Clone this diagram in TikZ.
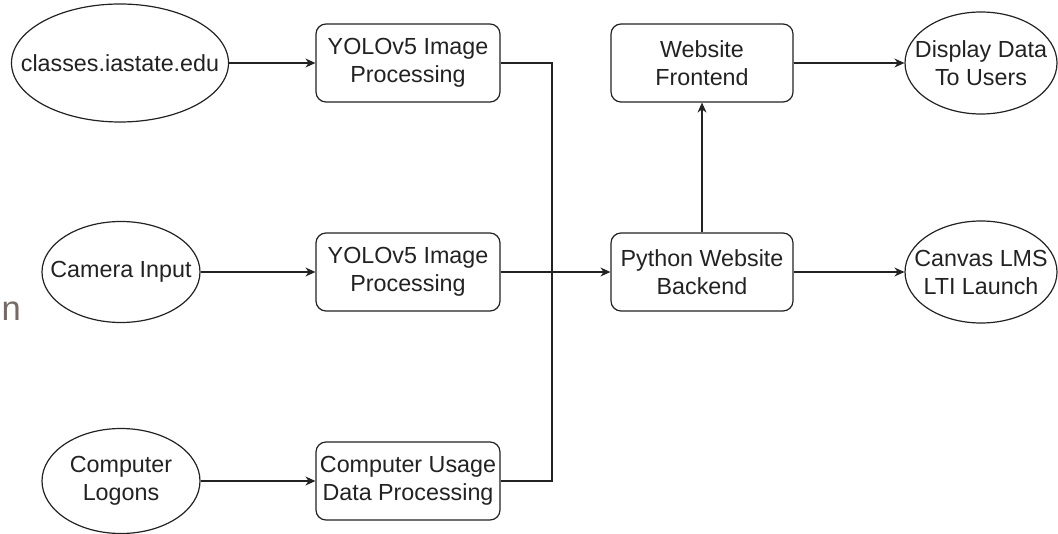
\documentclass[tikz,border=0pt]{standalone}
\usepackage{fontspec}
\setmainfont{Liberation Sans}
\usetikzlibrary{shapes.geometric,arrows.meta}
\definecolor{ink}{HTML}{222222}
\definecolor{stray}{HTML}{766A62}
\tikzset{
	src/.style={ellipse, draw=ink, line width=0.6pt, inner sep=0pt},
	proc/.style={rectangle, rounded corners=5pt, draw=ink, line width=0.6pt,
		minimum width=92pt, minimum height=39pt, inner sep=1pt, align=center,
		font=\fontsize{11.65}{14}\selectfont, text=ink},
	txt/.style={align=center, font=\fontsize{11.65}{14}\selectfont, text=ink}
}
\begin{document}
\begin{tikzpicture}[x=0.5pt, y=-0.5pt, >={Stealth[length=5pt,width=4.5pt]}, line width=0.6pt]
				\useasboundingbox (0,0) rectangle (1058,534);
				% sources
				\node[src, minimum width=108.5pt, minimum height=59pt,
					label={[txt]center:classes.iastate.edu}] (classes) at (120,63) {};
				\node[src, minimum width=79pt, minimum height=50.5pt,
					label={[txt]center:Camera Input}] (camera) at (121,272) {};
				\node[src, minimum width=79pt, minimum height=52.5pt,
					label={[txt]center:Computer\\Logons}] (logons) at (121,481) {};
				% processing
				\node[proc] (yolotop) at (408,63) {YOLOv5 Image\\Processing};
				\node[proc] (yolomid) at (408,272) {YOLOv5 Image\\Processing};
				\node[proc] (usage) at (408,481) {Computer Usage\\Data Processing};
				% website
				\node[proc, minimum width=91pt] (backend) at (702,272) {Python Website\\Backend};
				\node[proc, minimum width=91pt] (frontend) at (702,63) {Website\\Frontend};
				\node[src, minimum width=76pt, minimum height=51pt,
					label={[txt]center:Display Data\\To Users}] (display) at (981,63) {};
				\node[src, minimum width=76pt, minimum height=51pt,
					label={[txt]center:Canvas LMS\\LTI Launch}] (canvas) at (981,272) {};
				\node[anchor=base west, inner sep=0pt, text=stray,
					font=\fontsize{17.3}{20}\selectfont] (strayn) at (1,320) {n};
				\coordinate (merge) at (552,272);
				\draw[->, ink] (classes) -- (yolotop);
				\draw[->, ink] (camera) -- (yolomid);
				\draw[->, ink] (logons) -- (usage);
				\draw[ink] (yolotop.east) -| (merge);
				\draw[ink] (usage.east) -| (merge);
				\draw[->, ink] (yolomid) -- (backend);
				\draw[->, ink] (backend) -- (frontend);
				\draw[->, ink] (frontend) -- (display);
				\draw[->, ink] (backend) -- (canvas);
			\end{tikzpicture}
\end{document}
